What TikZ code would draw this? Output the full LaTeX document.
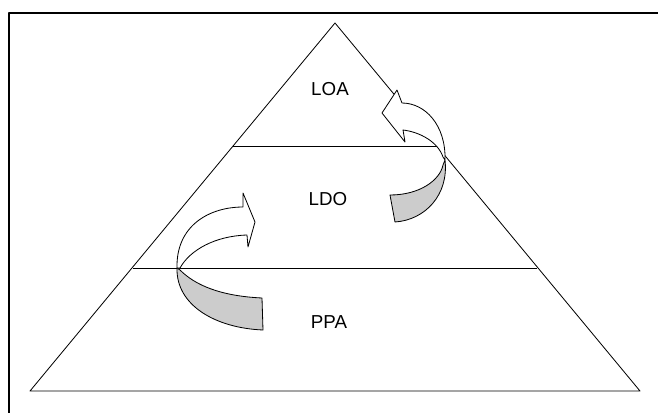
\documentclass[tikz,border=0pt]{standalone}
\usepackage{fontspec}
\setmainfont{Liberation Sans}
\begin{document}
\begin{tikzpicture}[x=0.03cm, y=-0.03cm, line join=round,
    livello/.style={font=\fontsize{16}{19}\selectfont, inner sep=0pt},
    freccia/.style={draw=black, line width=0.7pt, fill=white},
    coda/.style={draw=black, line width=0.7pt, fill=black!20}]
        \useasboundingbox (0,0) rectangle (658,413);

        % Cornice
        \draw[line width=1.3pt] (9,413) -- (9,13) -- (658,13);

        % Piramide
        \coordinate (A) at (335,23);   % vertice
        \coordinate (B) at (30,391);   % base sinistra
        \coordinate (C) at (640,391);  % base destra
        \coordinate (S1) at (233,146);
        \coordinate (D1) at (437,146);
        \coordinate (S2) at (133,268);
        \coordinate (D2) at (537,268);
        \draw[line width=0.7pt] (A) -- (B) -- (C) -- cycle;
        \draw[line width=0.7pt] (S1) -- (D1);
        \draw[line width=0.7pt] (S2) -- (D2);

        % Livelli
        \node[livello] (loa) at (330,89)  {LOA};
        \node[livello] (ldo) at (328,199) {LDO};
        \node[livello] (ppa) at (329,322) {PPA};

        % Freccia da PPA a LDO
        \draw[coda] (177,268) .. controls (176,305) and (215,328) .. (263,330)
            -- (262,298) .. controls (220,296) and (195,285) .. (180,270) -- cycle;
        \draw[freccia] (177,268) .. controls (176,225) and (210,207) .. (243,207)
            -- (243,193) -- (255,222) -- (248,247) -- (247,235)
            .. controls (215,236) and (190,250) .. (180,268) -- cycle;

        % Freccia da LDO a LOA
        \draw[coda] (445,160) .. controls (449,195) and (425,220) .. (395,222)
            -- (390,195) .. controls (420,195) and (440,180) .. (443,165) -- cycle;
        \draw[freccia] (445,160) .. controls (446,125) and (425,103) .. (402,103)
            -- (397,90) -- (382,113) -- (405,142) -- (403,130)
            .. controls (420,132) and (438,142) .. (443,157) -- cycle;
    \end{tikzpicture}
\end{document}
